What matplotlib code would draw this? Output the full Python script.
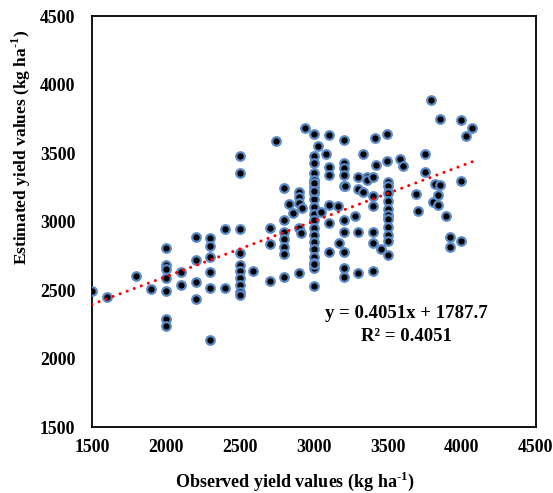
import numpy as np
import matplotlib
matplotlib.use("Agg")
import matplotlib.pyplot as plt

#fonts - Times-like bold everywhere, mathtext for the superscripts
plt.rcParams['font.family'] = ['Liberation Serif', 'DejaVu Serif']
plt.rcParams['font.weight'] = 'bold'
plt.rcParams['mathtext.fontset'] = 'custom'
plt.rcParams['mathtext.rm'] = 'Liberation Serif:bold'
plt.rcParams['mathtext.bf'] = 'Liberation Serif:bold'

#observed vs estimated yield (kg/ha)
obs_yield = [
    1500, 1600, 1800, 1900,
    2000, 2000, 2000, 2000, 2000, 2000, 2000,
    2100, 2100,
    2200, 2200, 2200, 2200,
    2300, 2300, 2300, 2300, 2300, 2300,
    2400, 2400,
    2500, 2500, 2500, 2500, 2500, 2500, 2500, 2500, 2500, 2500,
    2590,
    2700, 2700, 2700,
    2743,
    2800, 2800, 2800, 2800, 2800, 2800, 2800,
    2830, 2860,
    2900, 2900, 2900, 2900, 2900,
    2910, 2920, 2940,
    3000, 3000, 3000, 3000, 3000, 3000, 3000, 3000, 3000, 3000, 3000,
    3000, 3000, 3000, 3000, 3000, 3000, 3000, 3000, 3000, 3000, 3000,
    3030, 3050, 3080,
    3100, 3100, 3100, 3100, 3100, 3100,
    3160, 3170,
    3200, 3200, 3200, 3200, 3200, 3200, 3200, 3200, 3200, 3200,
    3210, 3280,
    3300, 3300, 3300, 3300,
    3330, 3330, 3360, 3360,
    3400, 3400, 3400, 3400, 3400, 3400,
    3410, 3420, 3450, 3490, 3490,
    3500, 3500, 3500, 3500, 3500, 3500, 3500, 3500, 3500, 3500, 3500,
    3580, 3600, 3690, 3700, 3750, 3750, 3790, 3806, 3820, 3840, 3840,
    3850, 3850, 3890, 3920, 3920, 3990, 3990, 3990, 4030, 4070,
]
est_yield = [
    2495, 2450, 2604, 2505,
    2810, 2682, 2650, 2590, 2493, 2288, 2237,
    2629, 2536,
    2889, 2717, 2556, 2432,
    2877, 2821, 2739, 2629, 2517, 2135,
    2945, 2517,
    3477, 3352, 2945, 2768, 2682, 2636, 2590, 2536, 2488, 2465,
    2636,
    2950, 2833, 2566,
    3588,
    3245, 3008, 2925, 2873, 2816, 2765, 2593,
    3128, 3062,
    3217, 3178, 3135, 2950, 2622,
    2918, 3100, 3680,
    3639, 3478, 3425, 3352, 3303, 3254, 3206, 3162, 3108, 3055, 3011,
    2955, 2905, 2850, 2800, 2743, 2694, 2658, 2526, 3283, 3223, 2690,
    3548, 3066, 3493,
    3631, 3397, 3343, 3120, 2991, 2775,
    3113, 2845,
    3595, 3425, 3388, 3343, 3257, 3011, 2925, 2775, 2663, 2597,
    3257, 3037,
    3327, 3237, 2925, 2622,
    3493, 3212, 3325, 3303,
    3323, 3184, 3115, 2921, 2841, 2641,
    3610, 3412, 2797, 3444, 3639,
    3291, 3262, 3206, 3150, 3090, 3050, 3020, 2962, 2901, 2855, 2755,
    3456, 3405, 3204, 3078, 3492, 3358, 3890, 3140, 3272, 3195, 3117,
    3748, 3266, 3042, 2884, 2816, 3741, 3297, 2859, 3624, 3680,
]

#linear trendline reported on the chart
slope = 0.4051
intercept = 1787.7
r_squared = 0.4051

fig = plt.figure(figsize=(5.53, 4.93), dpi=100)
ax = fig.add_axes([92/553, 1 - 427/493, 444/553, 411/493])

ax.scatter(obs_yield, est_yield, s=38, c='black', edgecolors='#5b8ac6',
           linewidths=1.6, zorder=3)

#trendline spans the observed range
xs = np.array([min(obs_yield), max(obs_yield)])
ax.plot(xs, slope * xs + intercept, color='red', lw=2.2,
        linestyle=(0, (0.01, 2.45)), dash_capstyle='round', zorder=4)

ax.text(3626, 2332, 'y = %.4fx + %.1f' % (slope, intercept), ha='center',
        va='center', fontsize=13.5, fontweight='bold')
ax.text(3626, 2164, 'R² = %.4f' % r_squared, ha='center', va='center',
        fontsize=13.5, fontweight='bold')

ax.set_xlim(1500, 4500)
ax.set_ylim(1500, 4500)
ax.set_xticks(np.arange(1500, 4501, 500))
ax.set_yticks(np.arange(1500, 4501, 500))
ax.tick_params(length=0, labelsize=12.8)
ax.tick_params(axis='x', pad=8.5)
ax.tick_params(axis='y', pad=12)
for sp in ax.spines.values():
    sp.set_linewidth(1.3)

fig.text(295/553, 1 - 481/493, r'Observed yield values (kg ha$^{\text{-1}}$)',
         ha='center', va='center', fontsize=13, fontweight='bold')
fig.text(21/553, 1 - 147/493, r'Estimated yield values (kg ha$^{\text{-1}}$)',
         ha='center', va='center', rotation=90, fontsize=12.5,
         fontweight='bold')

fig.savefig('out.png', dpi=100)
